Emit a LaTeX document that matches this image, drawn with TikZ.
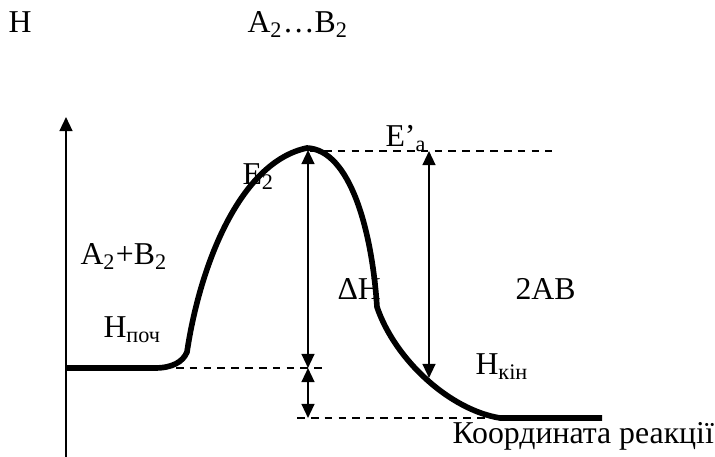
\documentclass[tikz,border=0pt]{standalone}
\usepackage{fontspec}
\setmainfont{Liberation Serif}
\usepackage{tikz}
\usetikzlibrary{arrows.meta}

\begin{document}
\begin{tikzpicture}[
  x=0.39pt, y=-0.39pt,
  every node/.style={font=\fontsize{12.4}{14}\selectfont, inner sep=0pt, anchor=base west},
  profile/.style={line width=2.2pt, line join=round},
  level/.style={line width=0.5pt, dash pattern=on 3pt off 2.4pt},
  gap/.style={line width=0.8pt, {Triangle[length=5.5pt,width=5pt]}-{Triangle[length=5.5pt,width=5pt]}},
]
\useasboundingbox (0,0) rectangle (715,457);

% axis
\coordinate (ax0) at (66,457);
\coordinate (ax1) at (66,117);
\draw[line width=0.8pt, -{Triangle[length=5.5pt,width=5pt]}] (ax0) -- (ax1);

% energy levels
\coordinate (start) at (66,368);
\coordinate (startend) at (155,368);
\coordinate (kinkA) at (187,352);
\coordinate (peak) at (307,148);
\coordinate (kinkB) at (377,307);
\coordinate (finbeg) at (500,418);
\coordinate (finend) at (602,418);

\coordinate (topL) at (310,151);
\coordinate (topR) at (552,151);
\coordinate (midL) at (162,368);
\coordinate (midR) at (326,368);
\coordinate (lowL) at (297,418);
\coordinate (lowR) at (500,418);

\draw[level] (topL) -- (topR);
\draw[level] (midL) -- (midR);
\draw[level] (lowL) -- (lowR);

% reaction profile
\draw[profile] (start) -- (startend)
  .. controls (172,368) and (183,362) .. (kinkA)
  .. controls (200,265) and (240,162) .. (peak)
  .. controls (350,150) and (372,230) .. (kinkB)
  .. controls (395,360) and (450,410) .. (finbeg) -- (finend);

% arrows
\coordinate (eaTop) at (308,150);
\coordinate (eaBot) at (308,368);
\coordinate (dhBot) at (308,418);
\coordinate (ebTop) at (429,151);
\coordinate (ebBot) at (429,378);
\draw[gap] (eaBot) -- (eaTop);
\draw[gap] (eaBot) -- (dhBot);
\draw[gap] (ebTop) -- (ebBot);

% labels
\node (lblH) at (8,33) {H};
\node (lblTS) at (247,33) {A\textsubscript{2}…B\textsubscript{2}};
\node (lblE2) at (242,185) {E\textsubscript{2}};
\node (lblEa) at (385,147) {E’\textsubscript{a}};
\node (lblReact) at (80,265) {A\textsubscript{2}+B\textsubscript{2}};
\node (lblHp) at (103,338) {H\textsubscript{поч}};
\node (lblDH) at (337,300) {ΔH};
\node (lblProd) at (515,300) {2AB};
\node (lblHk) at (475,375) {H\textsubscript{кін}};
\node (lblAxis) at (452,444) {Координата реакції};
\end{tikzpicture}
\end{document}
